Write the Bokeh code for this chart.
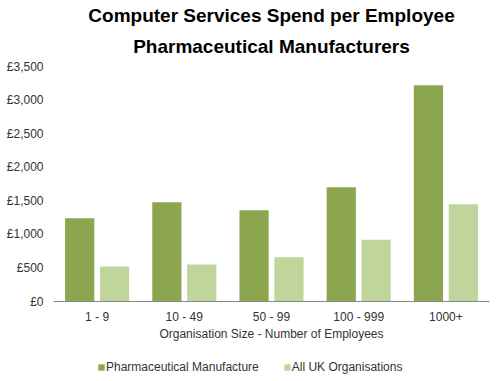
from bokeh.plotting import figure
from bokeh.layouts import column
from bokeh.models import (FactorRange, ColumnDataSource, Legend, LegendItem, Title,
                          SingleIntervalTicker, CustomJSTickFormatter, Range1d)
from bokeh.transform import dodge
from bokeh.embed import file_html
from bokeh.resources import INLINE

categories = ["1 - 9", "10 - 49", "50 - 99", "100 - 999", "1000+"]
pharma = [1240, 1480, 1360, 1700, 3220]
all_uk = [520, 550, 660, 920, 1450]
series_names = ["Pharmaceutical Manufacture", "All UK Organisations"]
title_lines = ["Computer Services Spend per Employee", "Pharmaceutical Manufacturers"]

FONT = "Liberation Sans"
DARK = "#8BA64F"
LIGHT = "#C0D59B"

src = ColumnDataSource(data=dict(cat=categories, pharma=pharma, uk=all_uk))

p = figure(x_range=FactorRange(*categories), y_range=Range1d(0, 3500),
           width=500, height=350, output_backend="svg", toolbar_location=None,
           min_border_left=53, min_border_right=11, min_border_top=66, min_border_bottom=49)
p.outline_line_color = None
p.xgrid.grid_line_color = None
p.ygrid.grid_line_color = None

r1 = p.vbar(x=dodge("cat", -0.2, range=p.x_range), top="pharma", width=0.335,
            source=src, fill_color=DARK, line_color=None)
r2 = p.vbar(x=dodge("cat", 0.2, range=p.x_range), top="uk", width=0.335,
            source=src, fill_color=LIGHT, line_color=None)

# titles (added bottom line first)
t2 = Title(text=title_lines[1], align="center", text_font=FONT, text_font_size="19px",
           text_font_style="bold", text_color="#000000", standoff=19)
t1 = Title(text=title_lines[0], align="center", text_font=FONT, text_font_size="19px",
           text_font_style="bold", text_color="#000000", standoff=-3)
p.add_layout(t2, "above")
p.add_layout(t1, "above")
p.title.visible = False

# y axis
p.yaxis.ticker = SingleIntervalTicker(interval=500)
p.yaxis.formatter = CustomJSTickFormatter(code="return '\u00a3' + tick.toLocaleString('en-GB');")
p.yaxis.axis_line_color = None
p.yaxis.major_tick_line_color = None
p.yaxis.major_tick_out = 0
p.yaxis.minor_tick_line_color = None
p.yaxis.minor_tick_out = 0
p.yaxis.major_label_text_font = FONT
p.yaxis.major_label_text_font_size = "12px"
p.yaxis.major_label_text_color = "#333333"
p.yaxis.major_label_standoff = 10

# x axis
p.xaxis.axis_line_color = "#888888"
p.xaxis.axis_line_width = 1
p.xaxis.major_tick_line_color = None
p.xaxis.major_tick_out = 0
p.xaxis.minor_tick_line_color = None
p.xaxis.minor_tick_out = 0
p.xaxis.major_label_text_font = FONT
p.xaxis.major_label_text_font_size = "12px"
p.xaxis.major_label_text_color = "#333333"
p.xaxis.major_label_standoff = 8
p.xaxis.axis_label = "Organisation Size - Number of Employees"
p.xaxis.axis_label_text_font = FONT
p.xaxis.axis_label_text_font_size = "12px"
p.xaxis.axis_label_text_font_style = "normal"
p.xaxis.axis_label_text_color = "#333333"
p.xaxis.axis_label_standoff = 0

# legend strip (separate small figure; its bars lie outside its visible range)
q = figure(x_range=FactorRange(*categories), y_range=Range1d(100000, 100001),
           width=500, height=31, output_backend="svg", toolbar_location=None,
           x_axis_type=None, y_axis_type=None,
           min_border_left=0, min_border_right=0, min_border_top=0, min_border_bottom=0)
q.outline_line_color = None
q.xgrid.grid_line_color = None
q.ygrid.grid_line_color = None
l1 = q.vbar(x="cat", top="pharma", width=0.3, source=src, fill_color=DARK, line_color=None)
l2 = q.vbar(x="cat", top="uk", width=0.3, source=src, fill_color=LIGHT, line_color=None)

legend = Legend(items=[LegendItem(label=series_names[0], renderers=[l1]),
                       LegendItem(label=series_names[1], renderers=[l2])],
                orientation="horizontal", location=(44, 7),
                label_text_font=FONT, label_text_font_size="12px", label_text_color="#333333",
                glyph_width=8, glyph_height=8, label_standoff=1, spacing=24,
                border_line_color=None, background_fill_alpha=0, margin=0, padding=4)
q.add_layout(legend, "center")

layout = column(p, q, spacing=0)
open("out.html", "w").write(file_html(layout, INLINE))
